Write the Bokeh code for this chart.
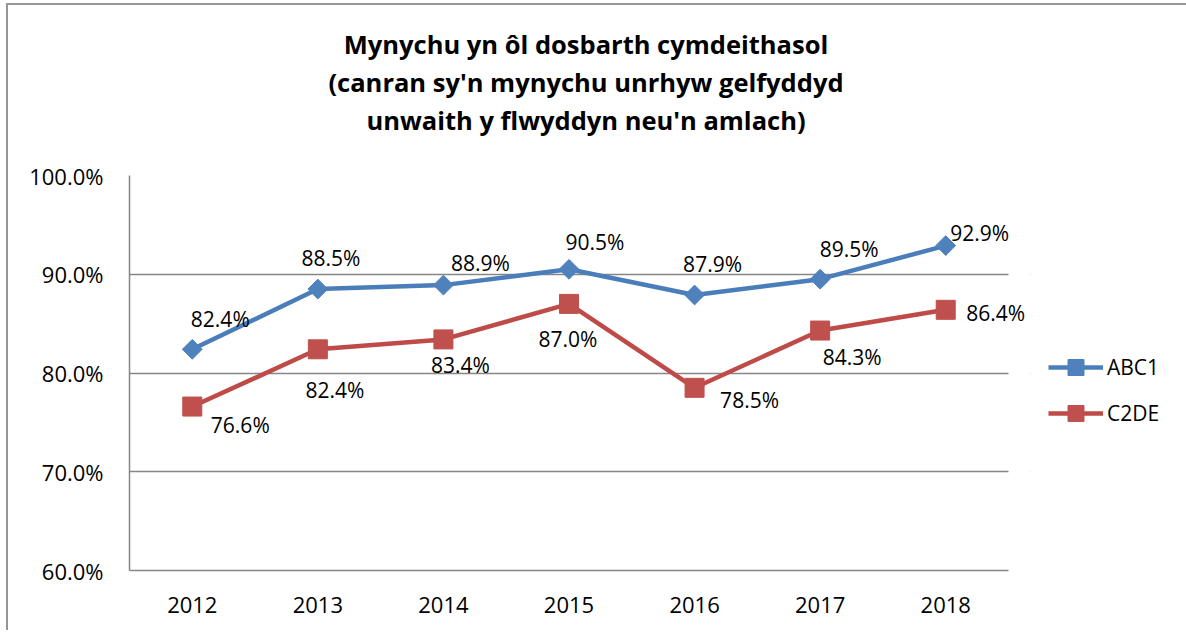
from bokeh.plotting import figure
from bokeh.models import (Range1d, FixedTicker, PrintfTickFormatter, BoxAnnotation,
                          Legend, LegendItem, ColumnDataSource, Div)
from bokeh.layouts import column
from bokeh.embed import file_html
from bokeh.resources import INLINE
from bokeh.core.properties import value
import math

years = ["2012", "2013", "2014", "2015", "2016", "2017", "2018"]
abc1 = [82.4, 88.5, 88.9, 90.5, 87.9, 89.5, 92.9]
c2de = [76.6, 82.4, 83.4, 87.0, 78.5, 84.3, 86.4]
series_names = ["ABC1", "C2DE"]
y_ticks = [60, 70, 80, 90, 100]
title_lines = ["Mynychu yn ôl dosbarth cymdeithasol",
               "(canran sy'n mynychu unrhyw gelfyddyd",
               "unwaith y flwyddyn neu'n amlach)"]

# data-label offsets in screen pixels (positive dy = down)
abc1_dx = [28, 13, 37, 26, 18, 29, 34]
abc1_dy = [-30, -31, -22, -27, -31, -30, -13]
c2de_dx = [48, 17, 17, -1, 55, 32, 50]
c2de_dy = [18, 41, 26, 35, 12, 26, 3]

FONT = "Open Sans"
BLUE_LINE, BLUE_FILL = "#4A7EBB", "#4F81BD"
RED_LINE, RED_FILL = "#BE4B48", "#C0504D"
GRID = "#868686"

W = 1178
DIV_H = 140
TOP = 175 - 5 - DIV_H
N = len(years)
CAT_W = 879 / N           # pixel width of one category slot
EXTRA = 22                # extra frame room on the right for the last label
x_end = N + EXTRA / CAT_W
xpos = [i + 0.5 for i in range(N)]

title_div = Div(
    text=('<div style="padding-top:20px; text-align:center; font-family:\'Open Sans\'; '
          'font-weight:bold; font-size:25.5px; line-height:38px; color:black; width:%dpx;">'
          % (W - 22)) + "<br>".join(title_lines) + "</div>",
    width=W, height=DIV_H, margin=0)

p = figure(x_range=Range1d(0, x_end), y_range=Range1d(60, 100),
           frame_width=879 + EXTRA, frame_height=395, output_backend="svg",
           toolbar_location=None, min_border_left=121, min_border_right=0,
           min_border_top=TOP, min_border_bottom=60, margin=0)

p.outline_line_color = None
p.background_fill_color = "white"
p.border_fill_color = "white"

p.xgrid.grid_line_color = None
p.ygrid.grid_line_color = GRID
p.ygrid.grid_line_width = 1.5
p.ygrid.ticker = FixedTicker(ticks=y_ticks)

# mask the grid beyond the last category slot
p.add_layout(BoxAnnotation(left=N, bottom=60, top=100, fill_color="white", fill_alpha=1,
                           line_alpha=0, level="underlay"))

p.yaxis.ticker = FixedTicker(ticks=y_ticks)
p.yaxis.formatter = PrintfTickFormatter(format="%.1f%%")
p.xaxis.ticker = FixedTicker(ticks=xpos)
p.xaxis.major_label_overrides = {x: y for x, y in zip(xpos, years)}
p.xaxis.bounds = (0, N)
for ax in (p.xaxis[0], p.yaxis[0]):
    ax.axis_line_color = GRID
    ax.axis_line_width = 1.5
    ax.major_tick_line_color = None
    ax.minor_tick_line_color = None
    ax.major_label_text_font = FONT
    ax.major_label_text_font_size = "22px"
    ax.major_label_text_color = "black"
p.yaxis.major_label_standoff = 20
p.xaxis.major_label_standoff = 20

src = ColumnDataSource(dict(x=xpos, year=years, abc1=abc1, c2de=c2de,
                            abc1_lbl=[f"{v:.1f}%" for v in abc1],
                            c2de_lbl=[f"{v:.1f}%" for v in c2de],
                            abc1_dx=abc1_dx, abc1_dy=abc1_dy,
                            c2de_dx=c2de_dx, c2de_dy=c2de_dy))

l1 = p.line("x", "abc1", source=src, line_color=BLUE_LINE, line_width=4.5)
s1 = p.scatter("x", "abc1", source=src, marker="square", angle=math.pi / 4, size=14,
               fill_color=BLUE_FILL, line_color=BLUE_FILL)
l2 = p.line("x", "c2de", source=src, line_color=RED_LINE, line_width=4.5)
s2 = p.scatter("x", "c2de", source=src, marker="square", size=19,
               fill_color=RED_FILL, line_color=RED_FILL)

p.text("x", "abc1", text="abc1_lbl", source=src, x_offset="abc1_dx", y_offset="abc1_dy",
       text_align="center", text_baseline="middle", text_font=value(FONT),
       text_font_size="21px", text_color="black")
p.text("x", "c2de", text="c2de_lbl", source=src, x_offset="c2de_dx", y_offset="c2de_dy",
       text_align="center", text_baseline="middle", text_font=value(FONT),
       text_font_size="21px", text_color="black")

legend = Legend(items=[LegendItem(label=series_names[0], renderers=[l1, s1]),
                       LegendItem(label=series_names[1], renderers=[l2, s2])],
                location=(18, 137), border_line_color=None, background_fill_alpha=0,
                glyph_width=55, glyph_height=40, label_height=20, spacing=6,
                label_text_font=FONT, label_text_font_size="21px", label_text_color="black",
                label_standoff=4, padding=0, margin=0)
p.add_layout(legend, "right")

layout = column(title_div, p, spacing=0,
                styles={"border-top": "2px solid #969696", "border-left": "2px solid #969696",
                        "margin-left": "6px", "margin-top": "3px"})

open("out.html", "w").write(file_html(layout, INLINE))
